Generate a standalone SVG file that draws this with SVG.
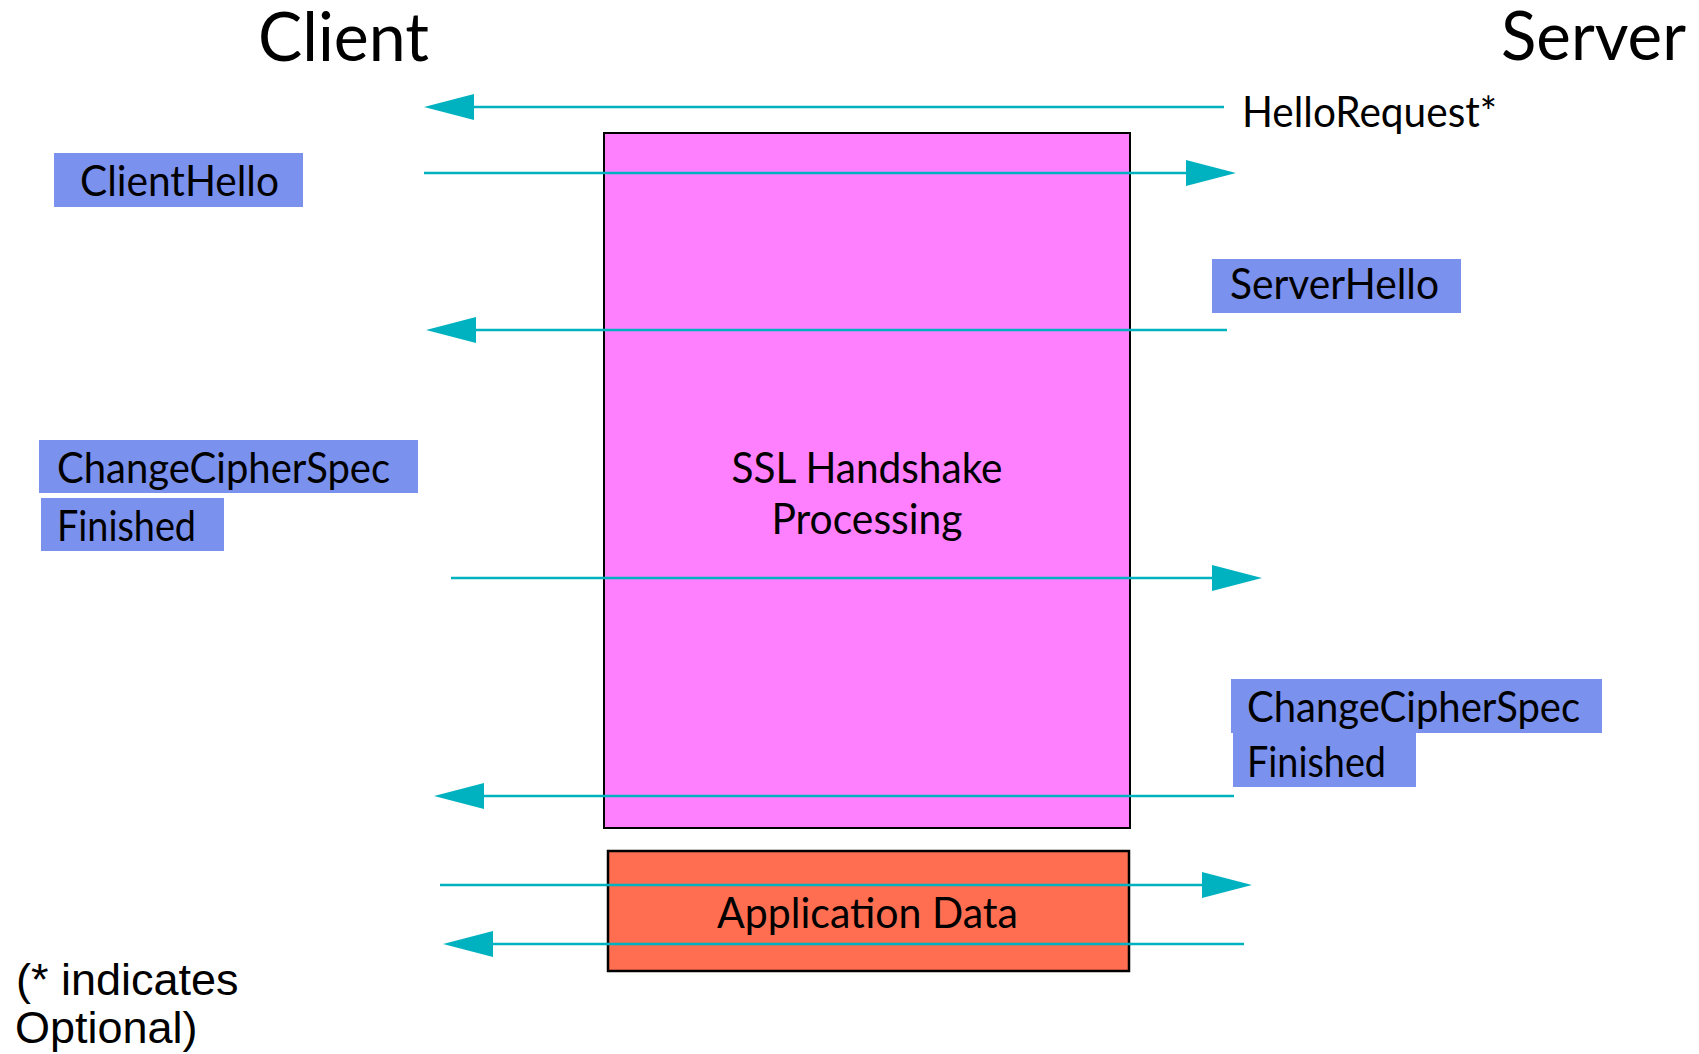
<svg xmlns="http://www.w3.org/2000/svg" width="1699" height="1054" viewBox="0 0 1699 1054">
  <style>
    .title { font-family: Lato, "Open Sans", sans-serif; font-size: 68px; fill: #000; }
    .lbl { font-family: Lato, "Open Sans", sans-serif; font-size: 42px; fill: #000; }
    .note { font-family: "Liberation Sans", Arial, sans-serif; font-size: 45px; fill: #000; }
    .tag { fill: #7B91EE; }
    .msg { stroke: #00B2BF; stroke-width: 2.5; fill: none; marker-end: url(#head); }
  </style>
  <defs>
    <marker id="head" markerUnits="userSpaceOnUse" markerWidth="50" markerHeight="26" refX="10" refY="13" orient="auto" overflow="visible">
      <path d="M0,0 L50,13 L0,26 z" fill="#00B2BF"/>
    </marker>
  </defs>
  <rect width="1699" height="1054" fill="#fff"/>

  <!-- endpoints -->
  <g id="client-title"><text class="title" x="258" y="61" textLength="171" lengthAdjust="spacingAndGlyphs">Client</text></g>
  <g id="server-title"><text class="title" x="1501" y="60" textLength="185" lengthAdjust="spacingAndGlyphs">Server</text></g>

  <!-- handshake block -->
  <g id="handshake">
    <rect x="604" y="133" width="526" height="695" fill="#FF80FF" stroke="#000" stroke-width="2"/>
    <text class="lbl" x="867" y="483" text-anchor="middle" textLength="271" lengthAdjust="spacingAndGlyphs">SSL Handshake</text>
    <text class="lbl" x="867" y="534" text-anchor="middle" textLength="191" lengthAdjust="spacingAndGlyphs">Processing</text>
  </g>

  <!-- application data block -->
  <g id="appdata">
    <rect x="608" y="851" width="521" height="120" fill="#FF6E50" stroke="#000" stroke-width="2.5"/>
    <text class="lbl" x="717" y="928" textLength="301" lengthAdjust="spacingAndGlyphs">Application Data</text>
  </g>

  <!-- message labels -->
  <g id="hello-request"><text class="lbl" x="1242" y="127" textLength="255" lengthAdjust="spacingAndGlyphs">HelloRequest*</text></g>
  <g id="client-hello">
    <rect class="tag" x="54" y="153" width="249" height="54"/>
    <text class="lbl" x="80" y="196" textLength="199" lengthAdjust="spacingAndGlyphs">ClientHello</text>
  </g>
  <g id="server-hello">
    <rect class="tag" x="1212" y="259" width="249" height="54"/>
    <text class="lbl" x="1230" y="299" textLength="209" lengthAdjust="spacingAndGlyphs">ServerHello</text>
  </g>
  <g id="client-ccs">
    <rect class="tag" x="39" y="440" width="379" height="53"/>
    <text class="lbl" x="57" y="483" textLength="333" lengthAdjust="spacingAndGlyphs">ChangeCipherSpec</text>
  </g>
  <g id="client-finished">
    <rect class="tag" x="41" y="498" width="183" height="53"/>
    <text class="lbl" x="57" y="541" textLength="139" lengthAdjust="spacingAndGlyphs">Finished</text>
  </g>
  <g id="server-ccs">
    <rect class="tag" x="1231" y="679" width="371" height="54"/>
    <text class="lbl" x="1247" y="722" textLength="333" lengthAdjust="spacingAndGlyphs">ChangeCipherSpec</text>
  </g>
  <g id="server-finished">
    <rect class="tag" x="1233" y="733" width="183" height="54"/>
    <text class="lbl" x="1247" y="777" textLength="139" lengthAdjust="spacingAndGlyphs">Finished</text>
  </g>

  <!-- messages between client and server -->
  <g id="connectors">
    <line class="msg" x1="1224" y1="107" x2="464" y2="107"/>
    <line class="msg" x1="424" y1="173" x2="1196" y2="173"/>
    <line class="msg" x1="1227" y1="330" x2="466" y2="330"/>
    <line class="msg" x1="451" y1="578" x2="1222" y2="578"/>
    <line class="msg" x1="1234" y1="796" x2="474" y2="796"/>
    <line class="msg" x1="440" y1="885" x2="1212" y2="885"/>
    <line class="msg" x1="1244" y1="944" x2="483" y2="944"/>
  </g>

  <g id="footnote">
    <text class="note" x="16" y="995">(* indicates</text>
    <text class="note" x="15" y="1043">Optional)</text>
  </g>
</svg>
